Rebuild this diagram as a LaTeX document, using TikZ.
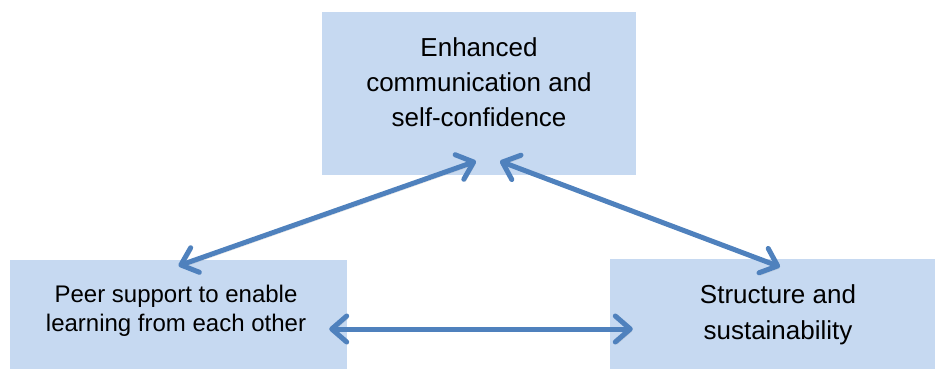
\documentclass[tikz,border=0pt]{standalone}
\usepackage{fontspec}
\setmainfont{Liberation Sans}
\usetikzlibrary{arrows.meta}
\definecolor{boxblue}{HTML}{C6D9F1}
\definecolor{linkblue}{HTML}{4F81BD}

\begin{document}
\begin{tikzpicture}[x=1pt,y=-1pt,
  box/.style={fill=boxblue,inner sep=0pt},
  lbl/.style={inner sep=0pt,align=center,text=black},
  link/.style={draw=linkblue,line width=5pt,line cap=round,
    {Straight Barb[length=15pt,width=26pt,round]}-{Straight Barb[length=15pt,width=26pt,round]},
    preaction={draw=black!35,opacity=0.35,transform canvas={shift={(1.5pt,-2.5pt)}}}}]
\useasboundingbox (0,0) rectangle (935,369);
% boxes
\node[box,minimum width=314pt,minimum height=163pt] (conf) at (479,93.5) {};
\node[box,minimum width=337pt,minimum height=120pt] (peer) at (178.5,320) {};
\node[box,minimum width=340pt,minimum height=121pt] (struct) at (780,319.5) {};
% texts
\node[lbl,font=\fontsize{26}{35}\selectfont] (conftxt) at (479,82.5) {Enhanced\\communication and\\self-confidence};
\node[lbl,font=\fontsize{24}{28.5}\selectfont] (peertxt) at (176,311) {Peer support to enable\\learning from each other};
\node[lbl,font=\fontsize{26}{36}\selectfont] (structtxt) at (778,315) {Structure and\\sustainability};
% arrows
\draw[link] ([xshift=-3pt,yshift=14pt]conf.south) -- ([yshift=-6pt]peer.north);
\draw[link] ([xshift=21pt,yshift=14pt]conf.south) -- ([yshift=-8pt]struct.north);
\draw[link] ([xshift=-18pt,yshift=-9pt]peer.east) -- ([xshift=23pt,yshift=-9.5pt]struct.west);
\end{tikzpicture}
\end{document}
